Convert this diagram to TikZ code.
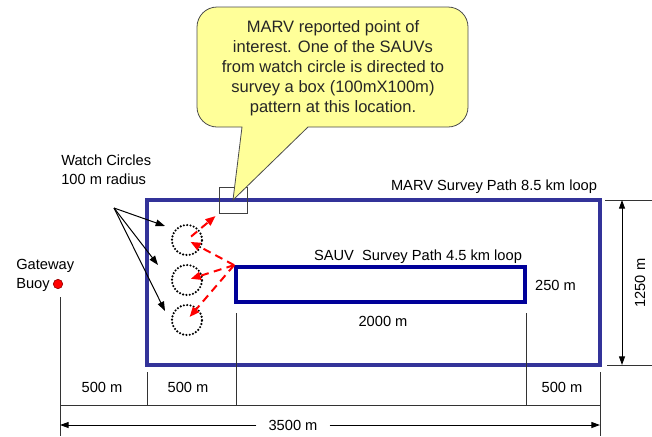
\documentclass[tikz,border=0pt]{standalone}
\usepackage{fontspec}
\setmainfont{Liberation Sans}
\usetikzlibrary{arrows.meta,calc}
\definecolor{marvblue}{HTML}{333399}
\definecolor{sauvblue}{HTML}{000099}
\definecolor{notefill}{HTML}{FFFF99}
\tikzset{
  lbl/.style={font=\fontsize{11}{14.25}\selectfont, inner sep=0pt, text=black},
  surveybox/.style={rectangle, draw=#1, line width=2.8pt, inner sep=0pt},
  watch/.style={circle, draw=black, line width=1.8pt, dash pattern=on 0pt off 2.5pt, line cap=round, minimum size=22.5pt, inner sep=0pt},
  arr/.style={-{Triangle[length=7pt,width=5pt]}, line width=0.75pt, draw=black},
  hint/.style={-{Triangle[length=7.5pt,width=6pt]}, line width=1.5pt, draw=red, dash pattern=on 6pt off 4pt, shorten >=3pt},
  dimline/.style={line width=0.6pt, draw=black!80},
  dimarr/.style={-{Triangle[length=6.5pt,width=4.5pt]}, line width=0.75pt, draw=black},
  poibox/.style={rectangle, draw=black!75, line width=0.75pt, minimum width=21pt, minimum height=19.5pt, inner sep=0pt},
  bubble/.style={fill=notefill, draw=black!70, line width=0.6pt},
  calltext/.style={font=\fontsize{12.4}{15}\selectfont, align=center, text=black!85, inner sep=0pt},
}

\begin{document}
\begin{tikzpicture}[x=0.75pt,y=-0.75pt]
  \useasboundingbox (0,0) rectangle (652,436);

  % survey loops
  \node[surveybox=marvblue, minimum width=339.75pt, minimum height=123.75pt] (marv) at (373.5,282.5) {};
  \node[surveybox=sauvblue, minimum width=216.75pt, minimum height=26.25pt] (sauv) at (380.5,284.5) {};
  \node[lbl] (marvlab) at (494,187) {MARV Survey Path 8.5 km loop};
  \node[lbl] (sauvlab) at (418,257) {SAUV\ \ Survey Path 4.5 km loop};
  \node[lbl] (sauvh) at (555.5,285) {250 m};
  \node[lbl] (sauvw) at (383,321) {2000 m};

  % watch circles
  \foreach \i/\y in {1/240,2/280,3/320}
    \node[watch] (w\i) at (187,\y) {};
  \node[lbl, align=left, anchor=west] (wlab) at (61,170) {Watch Circles\\100 m radius};
  \coordinate (wc) at (114,208);
  \coordinate (t1) at (165,226);
  \coordinate (t2) at (158,265);
  \coordinate (t3) at (165,311);
  \foreach \i in {1,2,3}
    \draw[arr] (wc) -- (t\i);

  % point of interest and dispatch
  \node[poibox] (poi) at (233,200) {};
  \foreach \i in {1,2,3}
    \draw[hint] (sauv.north west) -- (w\i.center);
  \draw[hint, shorten <=4pt] (w1.center) -- (poi.south west);

  % callout
  \draw[bubble] (poi.center) -- (242,127) [rounded corners=15pt] -- (197,127) -- (197,7)
    -- (468,7) -- (468,127) -- (400,127) [sharp corners] -- (308,127) -- cycle;
  \node[calltext] (note) at (333,68) {MARV reported point of\\interest. One of the SAUVs\\from watch circle is directed to\\survey a box (100mX100m)\\pattern at this location.};

  % gateway buoy
  \node[circle, fill=red, draw=red!60!black, line width=0.5pt, minimum size=7pt, inner sep=0pt] (buoy) at (58,284) {};
  \node[lbl, align=left, anchor=west] (buoylab) at (16,275) {Gateway\\Buoy};

  % dimensions
  \draw[dimline] (60,297) -- (60,436);
  \draw[dimline] (147,372) -- (147,405);
  \draw[dimline] (236,313) -- (236,405);
  \draw[dimline] (526,313) -- (526,405);
  \draw[dimline] (600,372) -- (600,436);
  \draw[dimline] (60,405) -- (600,405);
  \foreach \x in {102,188,562}
    \node[lbl] at (\x,387) {500 m};
  \node[lbl, inner xsep=9pt] (total) at (293,425) {3500 m};
  \draw[dimarr] (total) -- (60,425);
  \draw[dimarr] (total) -- (600,425);

  \draw[dimline] (605,200) -- (652,200);
  \draw[dimline] (607,365) -- (652,365);
  \draw[dimarr, {Triangle[length=6.5pt,width=4.5pt]}-{Triangle[length=6.5pt,width=4.5pt]}] (622,200) -- (622,365);
  \node[lbl, rotate=90] (height) at (640,283) {1250 m};
\end{tikzpicture}
\end{document}
